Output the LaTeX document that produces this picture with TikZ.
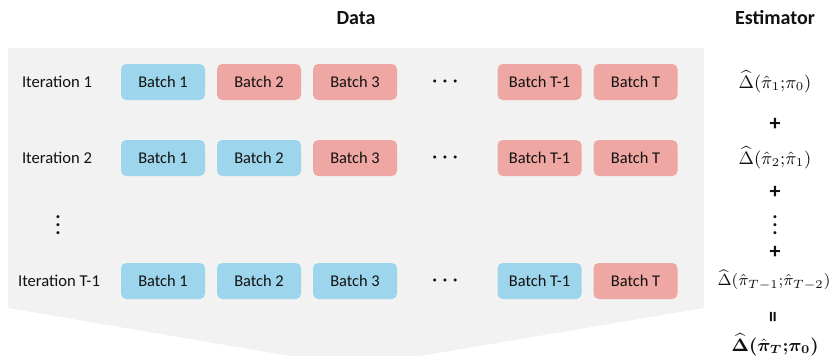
\documentclass[tikz,border=0pt]{standalone}
\usepackage{amsmath,bm}
\usepackage{fontspec}
\setmainfont{Carlito}
\definecolor{bgray}{RGB}{242,242,242}
\definecolor{bblue}{RGB}{157,214,236}
\definecolor{bpink}{RGB}{239,167,163}
\definecolor{txt}{RGB}{17,17,17}
\begin{document}
\begin{tikzpicture}[x=0.5pt,y=-0.5pt,
  batchbox/.style={rounded corners=2.6pt, minimum width=42pt, minimum height=18pt, inner sep=0pt, text=txt, font=\fontsize{8.2}{10}\selectfont},
  batchb/.style={batchbox, fill=bblue},
  batchr/.style={batchbox, fill=bpink},
  iterlbl/.style={text=txt, inner sep=0pt, font=\fontsize{8.3}{10}\selectfont},
  title/.style={text=txt, inner sep=0pt, font=\fontsize{10}{12}\selectfont\bfseries},
  est/.style={text=txt, inner sep=0pt, font=\fontsize{9}{11}\selectfont},
  op/.style={text=txt, inner sep=0pt, font=\fontsize{11}{12}\selectfont\bfseries},
  dots/.style={text=txt, inner sep=0pt, font=\fontsize{10}{12}\selectfont}]
\useasboundingbox (0,0) rectangle (829,355);
% background
\fill[bgray] (8,48) -- (704,48) -- (704,308) -- (420,356) -- (290,356) -- (8,308) -- cycle;
% titles
\node[title] (data) at (356,18) {Data};
\node[title] (estim) at (775,18) {Estimator};
% row labels
\node[iterlbl] (it1) at (57,82) {Iteration 1};
\node[iterlbl] (it2) at (57,158) {Iteration 2};
\node[dots] (vdl) at (58,219) {$\bm{\vdots}$};
\node[iterlbl] (itT) at (59,281) {Iteration T-1};
% row 1
\node[batchb] (a1) at (163,82) {Batch 1};
\node[batchr] (a2) at (259,82) {Batch 2};
\node[batchr] (a3) at (355,82) {Batch 3};
\node[dots] (ad) at (447,82) {$\bm{\cdots}$};
\node[batchr] (a4) at (539.5,82) {Batch T-1};
\node[batchr] (a5) at (635.5,82) {Batch T};
% row 2
\node[batchb] (b1) at (163,158) {Batch 1};
\node[batchb] (b2) at (259,158) {Batch 2};
\node[batchr] (b3) at (355,158) {Batch 3};
\node[dots] (bd) at (447,158) {$\bm{\cdots}$};
\node[batchr] (b4) at (539.5,158) {Batch T-1};
\node[batchr] (b5) at (635.5,158) {Batch T};
% row T-1
\node[batchb] (c1) at (163,281) {Batch 1};
\node[batchb] (c2) at (259,281) {Batch 2};
\node[batchb] (c3) at (355,281) {Batch 3};
\node[dots] (cd) at (447,281) {$\bm{\cdots}$};
\node[batchb] (c4) at (539.5,281) {Batch T-1};
\node[batchr] (c5) at (635.5,281) {Batch T};
% estimator column
\node[est] (e1) at (775,82) {$\widehat{\Delta}(\hat{\pi}_1{;}\pi_0)$};
\node[op] (p1) at (775,124) {+};
\node[est] (e2) at (775,158) {$\widehat{\Delta}(\hat{\pi}_2{;}\hat{\pi}_1)$};
\node[op] (p2) at (775,192) {+};
\node[dots] (vdr) at (775,219) {$\bm{\vdots}$};
\node[op] (p3) at (775,252) {+};
\node[est, font=\fontsize{8.4}{10}\selectfont] (e3) at (774,280) {$\widehat{\Delta}(\hat{\pi}_{T-1}{;}\hat{\pi}_{T-2})$};
\node[op, rotate=90] (eq) at (775,317) {=};
\node[est] (e4) at (775,345) {$\bm{\widehat{\Delta}(\hat{\pi}_T{;}\pi_0)}$};
\end{tikzpicture}
\end{document}
